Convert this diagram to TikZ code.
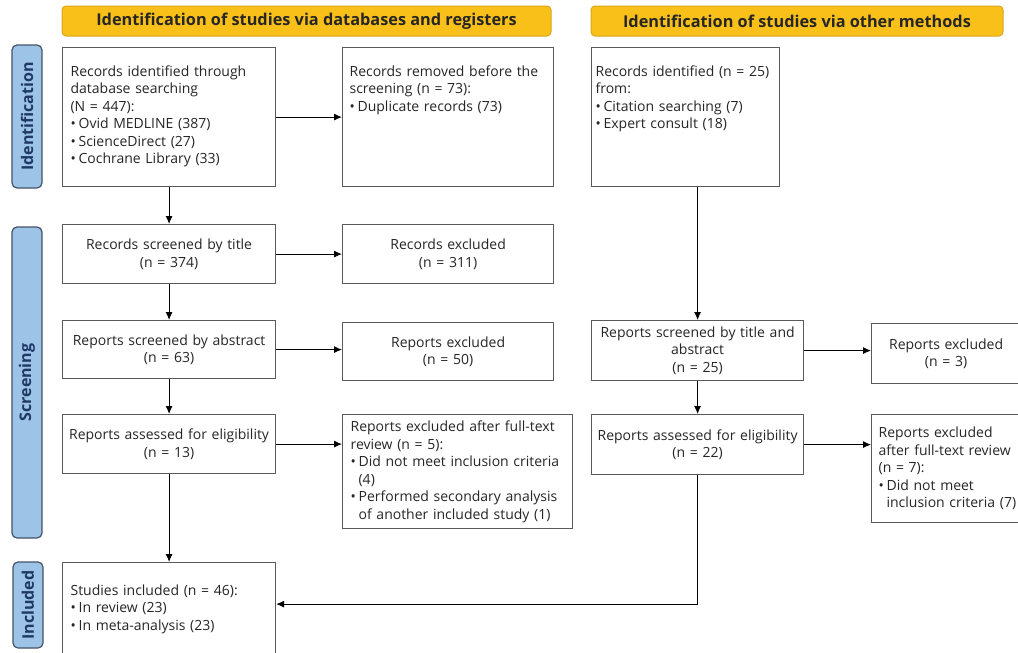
\documentclass[tikz,border=0pt]{standalone}
\usepackage{fontspec}
\setmainfont{Open Sans}
\usepackage{tikz}
\usetikzlibrary{arrows.meta,positioning}
\definecolor{stageFill}{HTML}{F9C01A}
\definecolor{stageLine}{HTML}{DDA51C}
\definecolor{phaseFill}{HTML}{9DC3E6}
\definecolor{phaseLine}{HTML}{44546A}
\definecolor{phaseText}{HTML}{1F3864}
\definecolor{flowLine}{HTML}{5A5A5A}
\newcommand{\topHeight}{103pt}
\newcommand{\dotItem}{\makebox[8pt][l]{•}}
\newcommand{\dotGap}{\hspace*{8pt}}
\newcommand{\topText}[1]{\parbox[c][\topHeight][t]{\linewidth}{\raggedright #1}}

\begin{document}
\begin{tikzpicture}[x=1pt, y=-1pt, line width=1.2pt,
		every node/.style={font=\fontsize{14}{17.5}\selectfont, text=black!85},
		stage/.style={draw=stageLine, fill=stageFill, line width=1pt, rounded corners=4pt, minimum height=30pt, font=\fontsize{16.3}{18}\selectfont\bfseries},
		phase/.style={draw=phaseLine, fill=phaseFill, rounded corners=5pt, rotate=90, minimum height=30pt, font=\fontsize{16}{18}\selectfont\bfseries, text=phaseText},
		flow/.style={draw=flowLine, fill=white, anchor=north west, inner xsep=2pt, text width=209pt, align=center},
		flowleft/.style={flow, inner xsep=8pt, text width=197pt, align=left},
		link/.style={-{Latex[length=8pt, width=7pt]}, line width=0.9pt, black}]
	\path[use as bounding box, fill=white] (0,0) rectangle (1018,653);

	\node[stage, minimum width=489pt] (dbhead) at (306.5,21) {Identification of studies via databases and registers};
	\node[stage, minimum width=412pt] (otherhead) at (797,21) {Identification of studies via other methods};

	\node[phase, minimum width=143pt] (idphase) at (27,116.5) {Identification};
	\node[phase, minimum width=311pt] (scrphase) at (27,382.5) {Screening};
	\node[phase, minimum width=86pt] (incphase) at (28,605) {Included};

	% databases and registers
	\node[flowleft, inner ysep=18pt] (dbrec) at (62,47) {\topText{Records identified through\\database searching\\(N = 447):\\\dotItem Ovid MEDLINE (387)\\\dotItem ScienceDirect (27)\\\dotItem Cochrane Library (33)}};
	\node[flowleft, inner ysep=18pt, inner xsep=7pt, text width=197pt] (dupl) at (342,47) {\topText{Records removed before the\\screening (n = 73):\\\dotItem Duplicate records (73)}};
	\node[flow, minimum height=59pt] (titlescr) at (62,224) {Records screened by title\\(n = 374)};
	\node[flow, minimum height=59pt, text width=207pt] (titleexc) at (342,224) {Records excluded\\(n = 311)};
	\node[flow, minimum height=58pt] (absscr) at (62,320) {Reports screened by abstract\\(n = 63)};
	\node[flow, minimum height=58pt, text width=207pt] (absexc) at (342,322) {Reports excluded\\(n = 50)};
	\node[flow, minimum height=59pt] (dbelig) at (62,414) {Reports assessed for eligibility\\(n = 13)};
	\node[flowleft, minimum height=114pt, text width=214pt] (dbfull) at (342,414) {Reports excluded after full-text\\review (n = 5):\\\dotItem Did not meet inclusion criteria\\\dotGap(4)\\\dotItem Performed secondary analysis\\\dotGap of another included study (1)};
	\node[flowleft, minimum height=93pt] (included) at (62,562) {Studies included (n = 46):\\\dotItem In review (23)\\\dotItem In meta-analysis (23)};

	% other methods
	\node[flowleft, inner ysep=18pt, inner xsep=4pt, text width=180pt] (otherrec) at (591,47) {\topText{Records identified (n = 25)\\from:\\\dotItem Citation searching (7)\\\dotItem Expert consult (18)}};
	\node[flow, minimum height=60pt, text width=208pt] (otherscr) at (591,320) {Reports screened by title and\\abstract\\(n = 25)};
	\node[flow, minimum height=60pt, text width=145pt] (otherexc) at (871,323) {Reports excluded\\(n = 3)};
	\node[flow, minimum height=60pt, text width=208pt] (otherelig) at (591,414) {Reports assessed for eligibility\\(n = 22)};
	\node[flowleft, minimum height=108pt, inner xsep=7pt, text width=150pt] (otherfull) at (871,414) {Reports excluded\\after full-text review\\(n = 7):\\\dotItem Did not meet\\\dotGap inclusion criteria (7)};

	\draw[link] (dbrec) -- (dupl);
	\draw[link] (dbrec) -- (titlescr);
	\draw[link] (titlescr) -- (titleexc);
	\draw[link] (titlescr) -- (absscr);
	\draw[link] (absscr.east) -- (absscr.east -| absexc.west);
	\draw[link] (absscr) -- (dbelig);
	\draw[link] (dbelig.east) -- (dbelig.east -| dbfull.west);
	\draw[link] (dbelig) -- (included);
	\draw[link] (otherscr.north |- otherrec.south) -- (otherscr);
	\draw[link] (otherscr.east) -- (otherscr.east -| otherexc.west);
	\draw[link] (otherscr) -- (otherelig);
	\draw[link] (otherelig.east) -- (otherelig.east -| otherfull.west);
	\draw[link] (otherelig) |- ([yshift=5pt]included.east);
\end{tikzpicture}
\end{document}
